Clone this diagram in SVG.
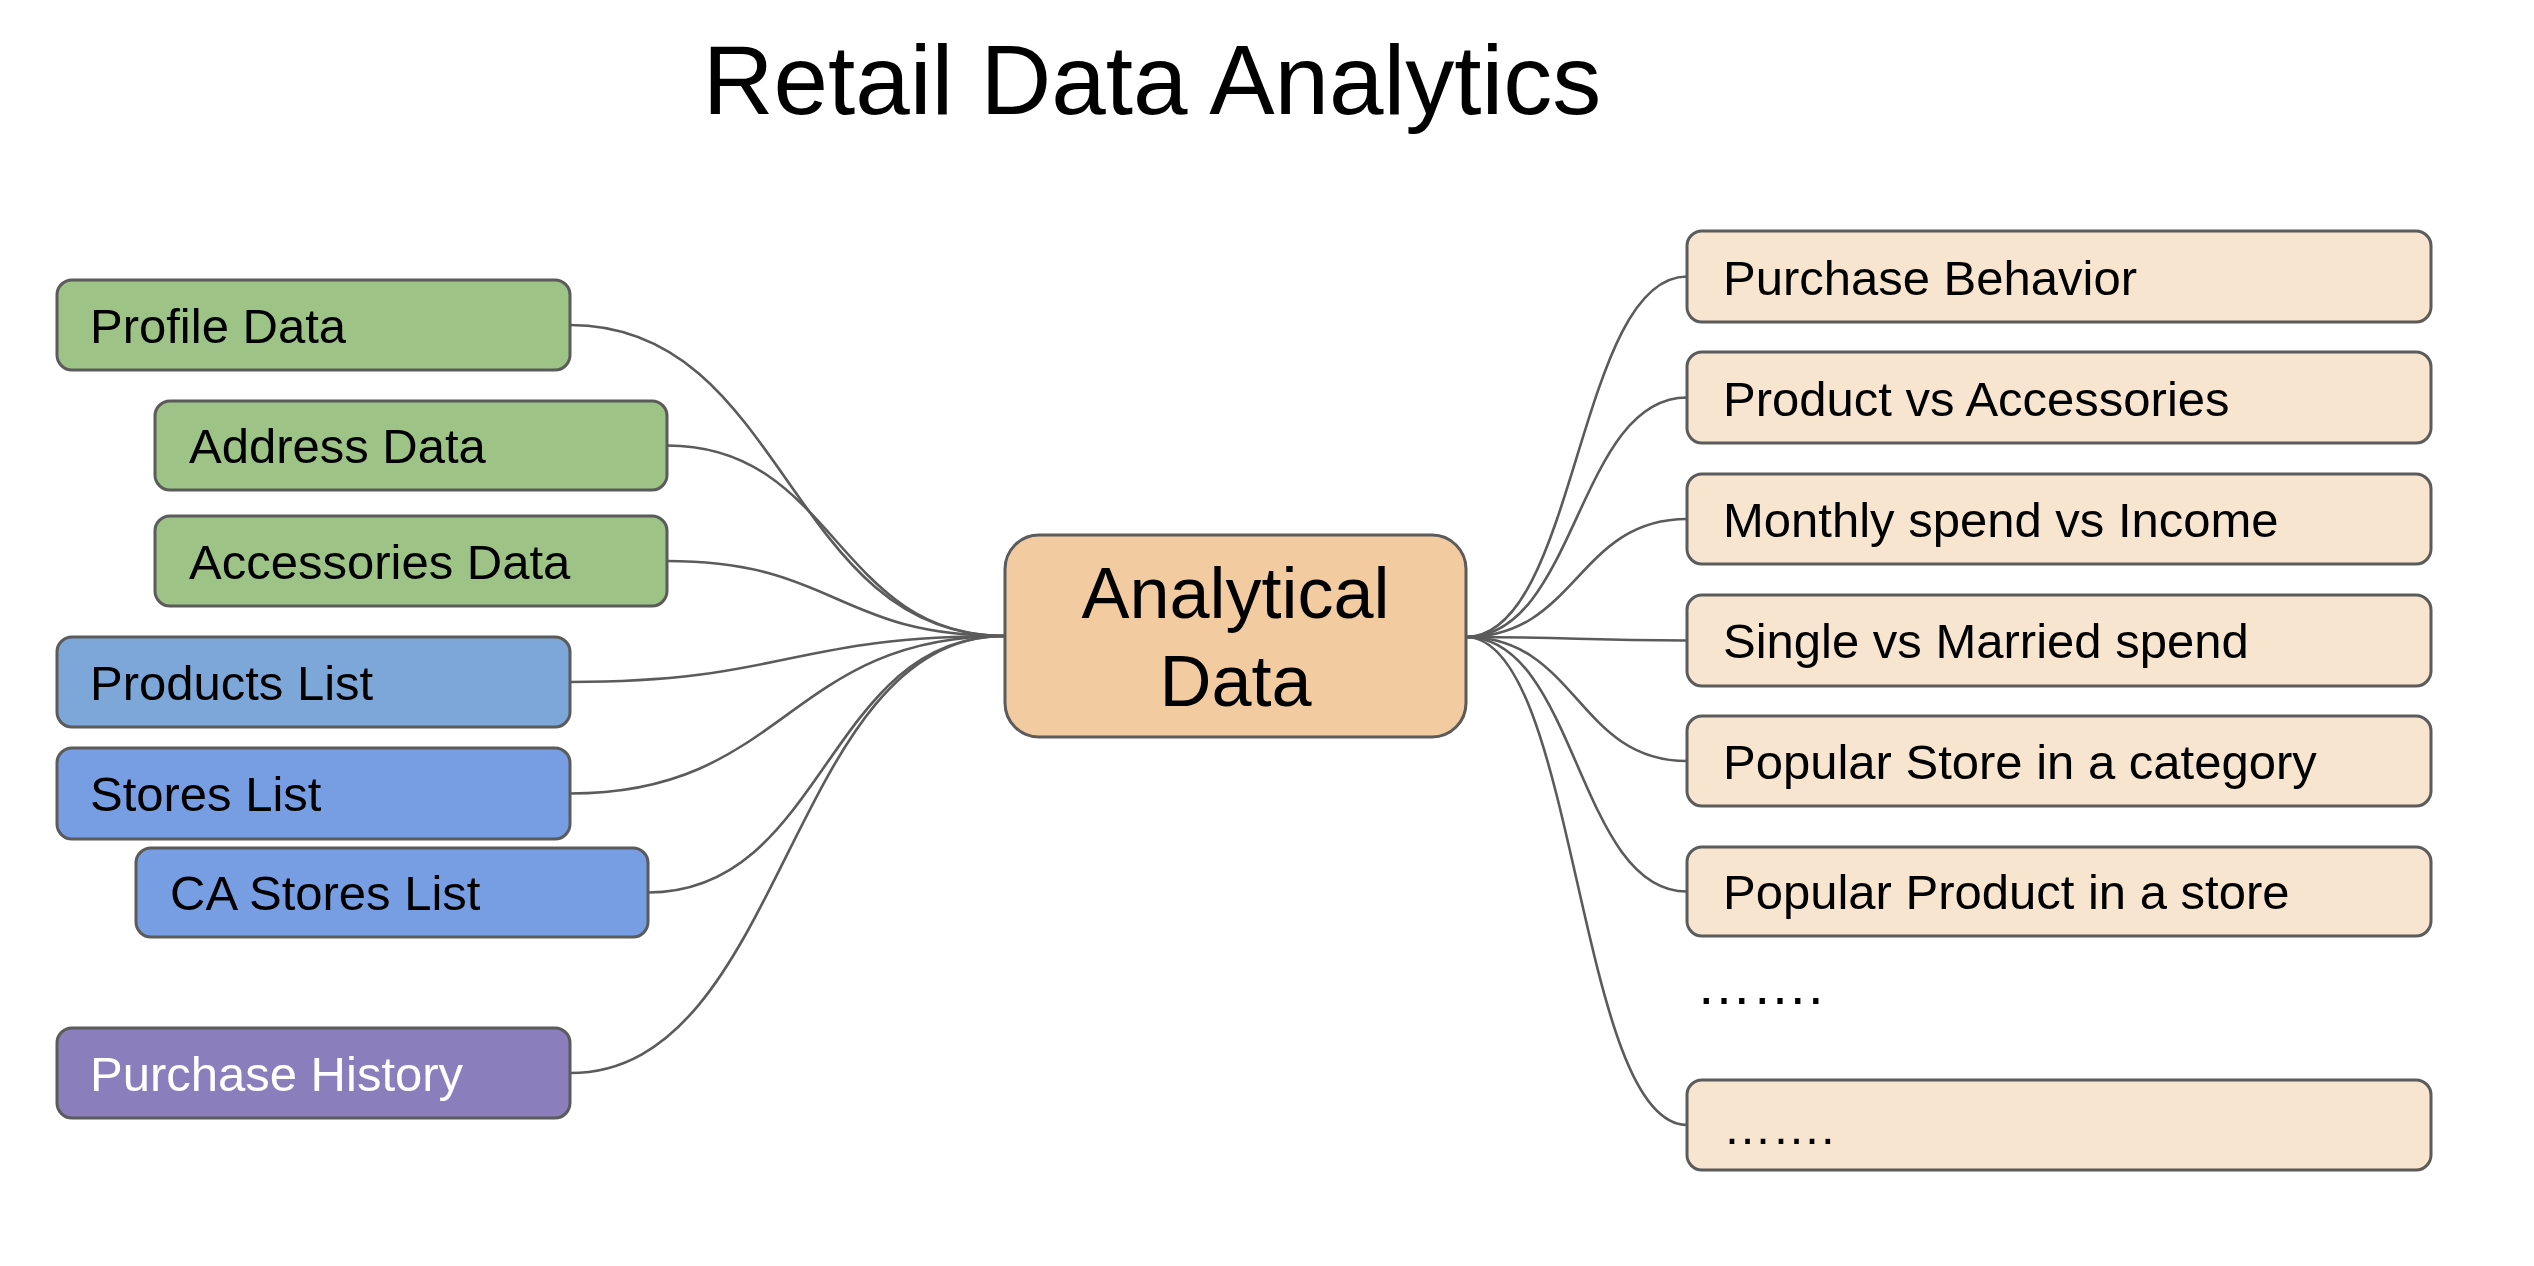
<svg xmlns="http://www.w3.org/2000/svg" width="2534" height="1266" viewBox="0 0 2534 1266">
<style>
  .box { stroke: #5b5b5b; stroke-width: 3; }
  .lbl { font-family: "Liberation Sans", Arial, sans-serif; font-size: 49px; fill: #000; }
  .conn path { fill: none; stroke: #5b5b5b; stroke-width: 2.6; }
  .green { fill: #9ec387; }
  .blue1 { fill: #7ca7d8; }
  .blue2 { fill: #779ee3; }
  .purple { fill: #8b7ebd; }
  .peach { fill: #f8e5d0; }
</style>
<rect width="2534" height="1266" fill="#ffffff"/>
<text id="title" x="1152" y="114" text-anchor="middle" font-family="Liberation Sans, Arial, sans-serif" font-size="98">Retail Data Analytics</text>

<g id="connectors" class="conn">
  <path d="M1005,636 C787,636 787,325 570,325"/>
  <path d="M1005,636 C836,636 836,445.5 667,445.5"/>
  <path d="M1005,636 C836,636 836,561 667,561"/>
  <path d="M1005,636 C787,636 787,682 570,682"/>
  <path d="M1005,636 C787,636 787,793.5 570,793.5"/>
  <path d="M1005,636 C826,636 826,892.5 648,892.5"/>
  <path d="M1005,636 C787,636 787,1073 570,1073"/>
  <path d="M1466,637 C1577,637 1577,276.5 1687,276.5"/>
  <path d="M1466,637 C1577,637 1577,397.5 1687,397.5"/>
  <path d="M1466,637 C1577,637 1577,519 1687,519"/>
  <path d="M1466,637 C1577,637 1577,640.5 1687,640.5"/>
  <path d="M1466,637 C1577,637 1577,761 1687,761"/>
  <path d="M1466,637 C1577,637 1577,891.5 1687,891.5"/>
  <path d="M1466,637 C1577,637 1577,1125 1687,1125"/>
</g>

<g id="profile-data"><rect class="box green" x="57" y="280" width="513" height="90" rx="15"/><text class="lbl" x="90" y="343">Profile Data</text></g>
<g id="address-data"><rect class="box green" x="155" y="401" width="512" height="89" rx="15"/><text class="lbl" x="189" y="463">Address Data</text></g>
<g id="accessories-data"><rect class="box green" x="155" y="516" width="512" height="90" rx="15"/><text class="lbl" x="189" y="579">Accessories Data</text></g>
<g id="products-list"><rect class="box blue1" x="57" y="637" width="513" height="90" rx="15"/><text class="lbl" x="90" y="700">Products List</text></g>
<g id="stores-list"><rect class="box blue2" x="57" y="748" width="513" height="91" rx="15"/><text class="lbl" x="90" y="811">Stores List</text></g>
<g id="ca-stores-list"><rect class="box blue2" x="136" y="848" width="512" height="89" rx="15"/><text class="lbl" x="170" y="910">CA Stores List</text></g>
<g id="purchase-history"><rect class="box purple" x="57" y="1028" width="513" height="90" rx="15"/><text class="lbl" x="90" y="1091" style="fill:#ffffff">Purchase History</text></g>

<g id="analytical-data"><rect class="box" x="1005" y="535" width="461" height="202" rx="34" fill="#f2cba1"/>
  <text x="1235.5" y="618" text-anchor="middle" font-family="Liberation Sans, Arial, sans-serif" font-size="72">Analytical</text>
  <text x="1235.5" y="706" text-anchor="middle" font-family="Liberation Sans, Arial, sans-serif" font-size="72">Data</text>
</g>

<g id="purchase-behavior"><rect class="box peach" x="1687" y="231" width="744" height="91" rx="15"/><text class="lbl" x="1723" y="295">Purchase Behavior</text></g>
<g id="product-vs-accessories"><rect class="box peach" x="1687" y="352" width="744" height="91" rx="15"/><text class="lbl" x="1723" y="416">Product vs Accessories</text></g>
<g id="monthly-spend"><rect class="box peach" x="1687" y="474" width="744" height="90" rx="15"/><text class="lbl" x="1723" y="537">Monthly spend vs Income</text></g>
<g id="single-vs-married"><rect class="box peach" x="1687" y="595" width="744" height="91" rx="15"/><text class="lbl" x="1723" y="658">Single vs Married spend</text></g>
<g id="popular-store"><rect class="box peach" x="1687" y="716" width="744" height="90" rx="15"/><text class="lbl" x="1723" y="779">Popular Store in a category</text></g>
<g id="popular-product"><rect class="box peach" x="1687" y="847" width="744" height="89" rx="15"/><text class="lbl" x="1723" y="909">Popular Product in a store</text></g>
<g id="dots-middle"><text class="lbl" x="1696" y="1004" style="font-size:56px">…….</text></g>
<g id="last-box"><rect class="box peach" x="1687" y="1080" width="744" height="90" rx="15"/><text class="lbl" x="1723" y="1144">…….</text></g>
</svg>
